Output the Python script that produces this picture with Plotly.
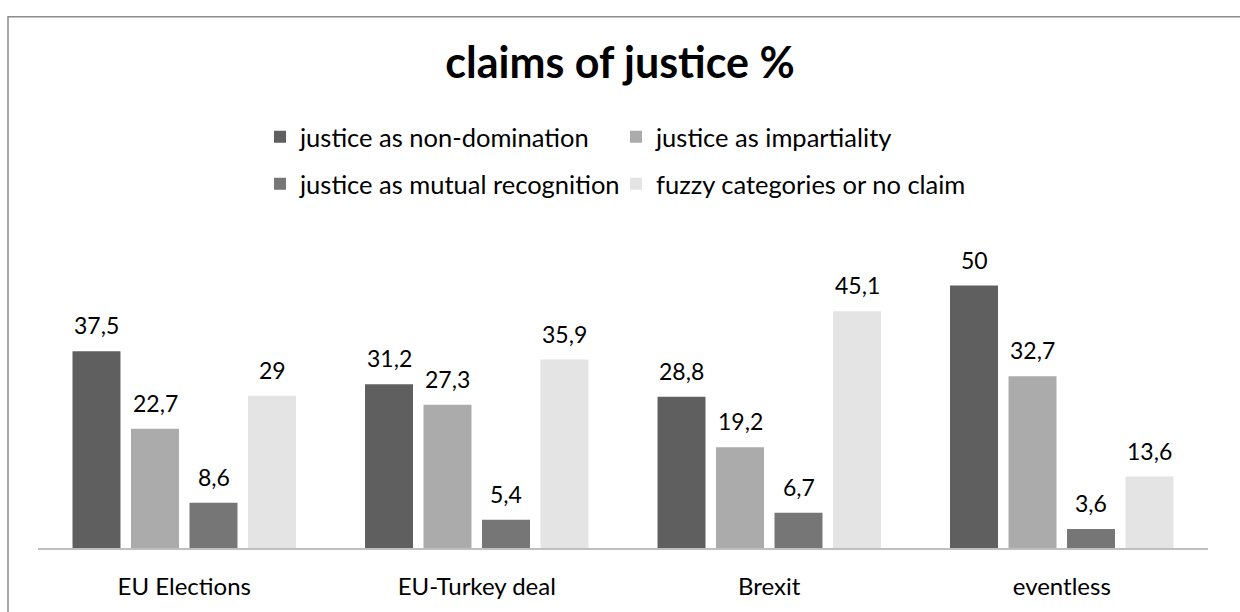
import plotly.graph_objects as go

categories = ["EU Elections", "EU-Turkey deal", "Brexit", "eventless"]
series_names = ["justice as non-domination", "justice as impartiality",
                "justice as mutual recognition", "fuzzy categories or no claim"]
non_domination = [37.5, 31.2, 28.8, 50]
impartiality = [22.7, 27.3, 19.2, 32.7]
mutual_recognition = [8.6, 5.4, 6.7, 3.6]
fuzzy = [29, 35.9, 45.1, 13.6]

series_values = [non_domination, impartiality, mutual_recognition, fuzzy]
colors = ["#5f5f5f", "#ababab", "#767676", "#e4e4e4"]
legend_ids = ["legend", "legend2", "legend3", "legend4"]
# legend placement (pixels): anchor x, row centre y
legend_pos = [(260, 135), (616, 135), (260, 183), (616, 183)]

FONT = "Lato"
W, H = 1240, 612
ML, MR, MT, MB = 38, 32, 233, 57
PW = W - ML - MR
PH = H - MT - MB

fig = go.Figure()
for name, vals, col, lg in zip(series_names, series_values, colors, legend_ids):
    fig.add_trace(go.Bar(
        x=categories, y=vals, name=name, marker=dict(color=col, line=dict(width=0)),
        legend=lg,
    ))

bargap = 0.2
slot = (1 - bargap) * (PW / len(categories)) / len(series_values)
annotations = []
for i, vals in enumerate(series_values):
    off = (i - 1.5) * slot
    for c, v in zip(categories, vals):
        annotations.append(dict(
            x=c, y=v, xref="x", yref="y", text=str(v).replace(".", ","),
            showarrow=False, xshift=off, yanchor="bottom", yshift=10,
            font=dict(family=FONT, size=23, color="#000000"),
        ))

def px_x(p):
    return (p - ML) / PW

def px_y(p):
    return (H - MB - p) / PH

legend_layouts = {}
for lid, (lx, ly) in zip(legend_ids, legend_pos):
    legend_layouts[lid] = dict(
        orientation="h", x=px_x(lx), xanchor="left", y=px_y(ly), yanchor="middle",
        itemwidth=30, font=dict(family=FONT, size=25.5, color="#000000"),
        bgcolor="rgba(0,0,0,0)")

fig.update_layout(
    width=W, height=H,
    margin=dict(l=ML, r=MR, t=MT, b=MB),
    paper_bgcolor="white", plot_bgcolor="white",
    barmode="group", bargap=bargap, bargroupgap=0.18,
    title=dict(text="<b>claims of justice %</b>", x=0.5, xanchor="center",
               y=1 - 63 / H, yanchor="middle",
               font=dict(family=FONT, size=43, color="#000000")),
    xaxis=dict(showgrid=False, showline=True, linecolor="#bfbfbf", linewidth=2,
               ticks="", ticklabelstandoff=16,
               tickfont=dict(family=FONT, size=24, color="#000000"), fixedrange=True),
    yaxis=dict(range=[0, 60], visible=False, showgrid=False, fixedrange=True),
    annotations=annotations,
    shapes=[dict(type="rect", xref="paper", yref="paper",
                 x0=px_x(8), x1=px_x(1300), y0=px_y(700), y1=px_y(12),
                 line=dict(color="#8c8c8c", width=1.5), fillcolor="rgba(0,0,0,0)", layer="below")],
    showlegend=True,
    **legend_layouts,
)

fig.write_html("out.html", config={"displayModeBar": False},
               post_script="document.body.style.margin='0';")
